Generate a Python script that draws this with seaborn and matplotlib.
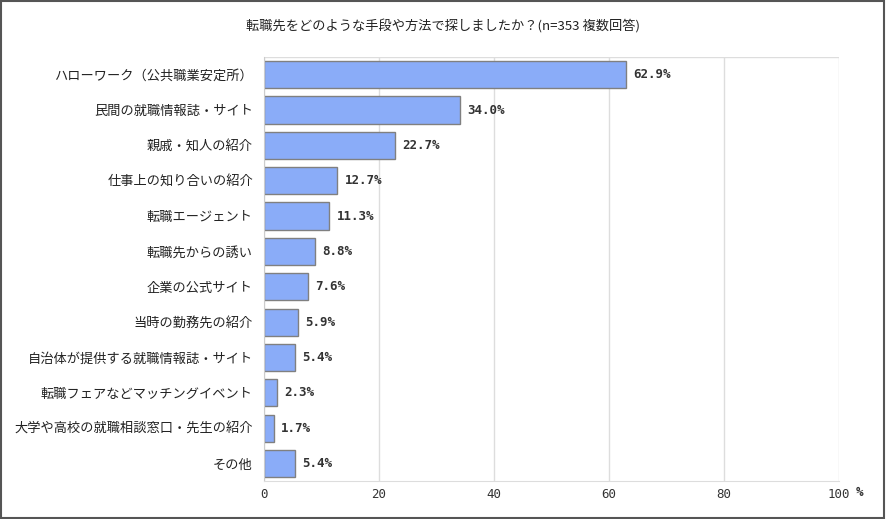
import matplotlib
matplotlib.use('Agg')
import matplotlib.pyplot as plt
import matplotlib.transforms as mtransforms
import seaborn as sns
import pandas as pd

# データ
categories = [
    'ハローワーク（公共職業安定所）',
    '民間の就職情報誌・サイト',
    '親戚・知人の紹介',
    '仕事上の知り合いの紹介',
    '転職エージェント',
    '転職先からの誘い',
    '企業の公式サイト',
    '当時の勤務先の紹介',
    '自治体が提供する就職情報誌・サイト',
    '転職フェアなどマッチングイベント',
    '大学や高校の就職相談窓口・先生の紹介',
    'その他',
]
values = [62.9, 34.0, 22.7, 12.7, 11.3, 8.8, 7.6, 5.9, 5.4, 2.3, 1.7, 5.4]
x_ticks = [0, 20, 40, 60, 80, 100]

df = pd.DataFrame({'item': categories, 'pct': values})

sns.set_style('white')
plt.rcParams['font.family'] = ['Noto Sans CJK JP', 'DejaVu Sans']

fig = plt.figure(figsize=(8.86, 5.19), dpi=100)
ax = fig.add_axes([0.298, 0.073, 0.649, 0.817])

sns.barplot(data=df, y='item', x='pct', color='#8aacf8', edgecolor='#808080',
            linewidth=1, width=0.77, saturation=1, ax=ax)

ax.set_xlim(0, 100)
ax.set_xticks(x_ticks)
ax.set_xticklabels([str(t) for t in x_ticks], family='DejaVu Sans Mono',
                   fontsize=9, color='#333333')
ax.set_xlabel('')
ax.set_ylabel('')
ax.tick_params(axis='y', labelsize=9.5, length=0, pad=8, colors='#222222')
ax.tick_params(axis='x', length=0, pad=5)
ax.grid(axis='x', color='#dddddd', linewidth=1)
ax.set_axisbelow(True)
for s in ['top', 'right']:
    ax.spines[s].set_visible(False)
ax.spines['left'].set_color('#cccccc')
ax.spines['bottom'].set_color('#dddddd')
ax.axhline(-0.5, color='#dddddd', linewidth=1)

for i, v in enumerate(values):
    ax.text(v + 1.3, i, f'{v:.1f}%', va='center', ha='left',
            family='DejaVu Sans Mono', fontweight='bold', fontsize=9,
            color='#333333')

# 単位 "%"
trans = mtransforms.blended_transform_factory(ax.transData, fig.transFigure)
ax.text(103.5, 1 - 493 / 519, '%', transform=trans, ha='center',
        va='center', family='DejaVu Sans Mono', fontweight='bold',
        fontsize=9, color='#333333', clip_on=False)

fig.text(0.5, 1 - 27 / 519, '転職先をどのような手段や方法で探しましたか？(n=353 複数回答)',
         ha='center', va='center', fontsize=9.5, color='#222222')

# 外枠
fig.patches.append(plt.Rectangle((0.001, 0.002), 0.997, 0.996,
                                 transform=fig.transFigure, fill=False,
                                 edgecolor='#555555', linewidth=1.5))

fig.savefig('out.png', dpi=100)
